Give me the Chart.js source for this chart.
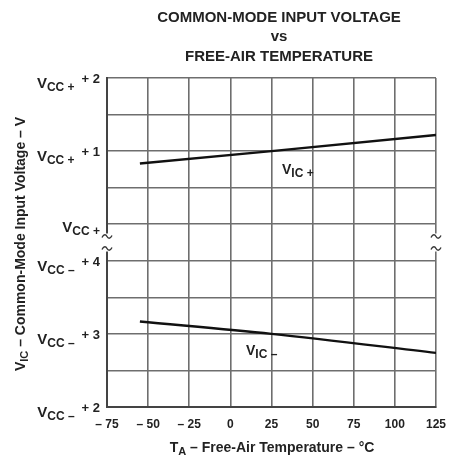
<!DOCTYPE html>
<html>
<head>
<meta charset="utf-8">
<script src="https://cdn.jsdelivr.net/npm/chart.js@4"></script>
<style>
  html, body { margin: 0; background: #fff; }
  #wrap { width: 453px; height: 457px; }
</style>
</head>
<body>
<div id="wrap"><canvas id="chart"></canvas></div>
<script>
// free-air temperature, degC
const temps = [-55, 25, 125];
// V_IC+ read as volts above VCC+, V_IC- as volts above VCC-
const vicPlus = [0.83, 1.00, 1.22];
const vicMinus = [3.17, 3.00, 2.74];

const xTicks = [-75, -50, -25, 0, 25, 50, 75, 100, 125];

// y axis is split: 0..4 = VCC- +2..+4, 5..9 = VCC+ ..+2 (0.5 V per step)
const yTickPos = [9, 7, 5, 4, 2, 0];
const yTickRail = ['+', '+', '+', '\u2013', '\u2013', '\u2013'];
const yTickOffset = ['+ 2', '+ 1', '', '+ 4', '+ 3', '+ 2'];

const toAxisPlus = v => 5 + 2 * v;
const toAxisMinus = v => 2 * (v - 2);

const FONT = '"Liberation Sans", Arial, sans-serif';

function rich(ctx, runs, x, y, align) {
  let total = 0;
  runs.forEach(r => {
    ctx.font = (r.bold ? 'bold ' : '') + r.size + 'px ' + FONT;
    r.w = ctx.measureText(r.t).width;
    total += r.w + (r.gap || 0);
  });
  let cx = align === 'right' ? x - total : align === 'center' ? x - total / 2 : x;
  runs.forEach(r => {
    cx += r.gap || 0;
    ctx.font = (r.bold ? 'bold ' : '') + r.size + 'px ' + FONT;
    ctx.fillText(r.t, cx, y + (r.dy || 0));
    cx += r.w;
  });
}

const decorations = {
  id: 'decorations',
  afterDraw(chart) {
    const ctx = chart.ctx;
    const area = chart.chartArea;
    const ys = chart.scales.y;
    ctx.save();
    ctx.fillStyle = '#222';
    ctx.textAlign = 'left';
    ctx.textBaseline = 'alphabetic';

    // title
    ctx.font = 'bold 15px ' + FONT;
    ctx.textAlign = 'center';
    ctx.fillText('COMMON-MODE INPUT VOLTAGE', 279, 22);
    ctx.fillText('vs', 279, 41);
    ctx.fillText('FREE-AIR TEMPERATURE', 279, 61);
    ctx.textAlign = 'left';

    // y tick labels
    yTickPos.forEach((v, i) => {
      const gy = ys.getPixelForValue(v);
      const runs = [
        {t: 'V', size: 15, dy: 10, bold: true},
        {t: 'CC', size: 12, dy: 13, bold: true},
        {t: ' ' + yTickRail[i], size: 12, dy: 13, bold: true}
      ];
      if (yTickOffset[i]) runs.push({t: yTickOffset[i], size: 13, dy: 5, gap: 7, bold: true});
      else runs.forEach(r => r.dy -= 2);
      rich(ctx, runs, 100, gy, 'right');
    });

    // y axis title
    ctx.save();
    ctx.translate(25, 244);
    ctx.rotate(-Math.PI / 2);
    rich(ctx, [
      {t: 'V', size: 14, bold: true},
      {t: 'IC', size: 11, bold: true, dy: 3},
      {t: ' \u2013 Common-Mode Input Voltage \u2013 V', size: 14, bold: true}
    ], 0, 0, 'center');
    ctx.restore();

    // x axis title
    rich(ctx, [
      {t: 'T', size: 14, bold: true},
      {t: 'A', size: 11, bold: true, dy: 3},
      {t: ' \u2013 Free-Air Temperature \u2013 \u00b0C', size: 14, bold: true}
    ], 272, 452, 'center');

    // curve labels
    rich(ctx, [
      {t: 'V', size: 14, bold: true},
      {t: 'IC', size: 12, dy: 3, bold: true},
      {t: ' +', size: 12, dy: 3, bold: true}
    ], 282, 174, 'left');
    rich(ctx, [
      {t: 'V', size: 14, bold: true},
      {t: 'IC', size: 12, dy: 3, bold: true},
      {t: ' \u2013', size: 12, dy: 3, bold: true}
    ], 246, 355, 'left');

    // axis break marks on both side borders
    const mid = (ys.getPixelForValue(5) + ys.getPixelForValue(4)) / 2;
    [area.left, area.right].forEach(bx => {
      ctx.fillStyle = '#fff';
      ctx.fillRect(bx - 4, mid - 9, 8, 18);
      ctx.strokeStyle = '#333';
      ctx.lineWidth = 1.4;
      [mid - 6, mid + 6].forEach(ty => {
        ctx.beginPath();
        ctx.moveTo(bx - 5, ty + 1);
        ctx.bezierCurveTo(bx - 3, ty - 3, bx - 1, ty - 2, bx, ty);
        ctx.bezierCurveTo(bx + 1, ty + 2, bx + 3, ty + 3, bx + 5, ty - 1);
        ctx.stroke();
      });
    });
    ctx.restore();
  }
};

new Chart(document.getElementById('chart'), {
  type: 'scatter',
  data: {
    datasets: [{
      label: 'VIC+',
      data: temps.map((t, i) => ({x: t, y: toAxisPlus(vicPlus[i])})),
      showLine: true,
      borderColor: '#111',
      borderWidth: 2.4,
      pointRadius: 0
    }, {
      label: 'VIC-',
      data: temps.map((t, i) => ({x: t, y: toAxisMinus(vicMinus[i])})),
      showLine: true,
      borderColor: '#111',
      borderWidth: 2.4,
      pointRadius: 0,
      cubicInterpolationMode: 'monotone'
    }]
  },
  options: {
    responsive: true,
    maintainAspectRatio: false,
    animation: false,
    layout: { padding: { top: 78, right: 17, left: 0, bottom: 0 } },
    plugins: {
      legend: { display: false },
      tooltip: { enabled: false }
    },
    scales: {
      x: {
        type: 'linear',
        min: -75,
        max: 125,
        afterBuildTicks: s => { s.ticks = xTicks.map(v => ({value: v})); },
        afterFit: s => { s.height = 50; s.paddingLeft = 0; s.paddingRight = 0; },
        grid: { color: '#6e6e6e', lineWidth: 1.6, drawTicks: false },
        border: { color: '#444', width: 2 },
        ticks: {
          padding: 10,
          color: '#222',
          font: { family: FONT, size: 12, weight: 'bold' },
          callback: v => v < 0 ? '\u2013 ' + Math.abs(v) : String(v)
        }
      },
      y: {
        min: 0,
        max: 9,
        afterFit: s => { s.width = 107; s.paddingTop = 0; s.paddingBottom = 0; },
        grid: { color: '#6e6e6e', lineWidth: 1.6, drawTicks: false },
        border: { color: '#444', width: 2 },
        ticks: { stepSize: 1, display: false }
      }
    }
  },
  plugins: [decorations]
});
</script>
</body>
</html>
